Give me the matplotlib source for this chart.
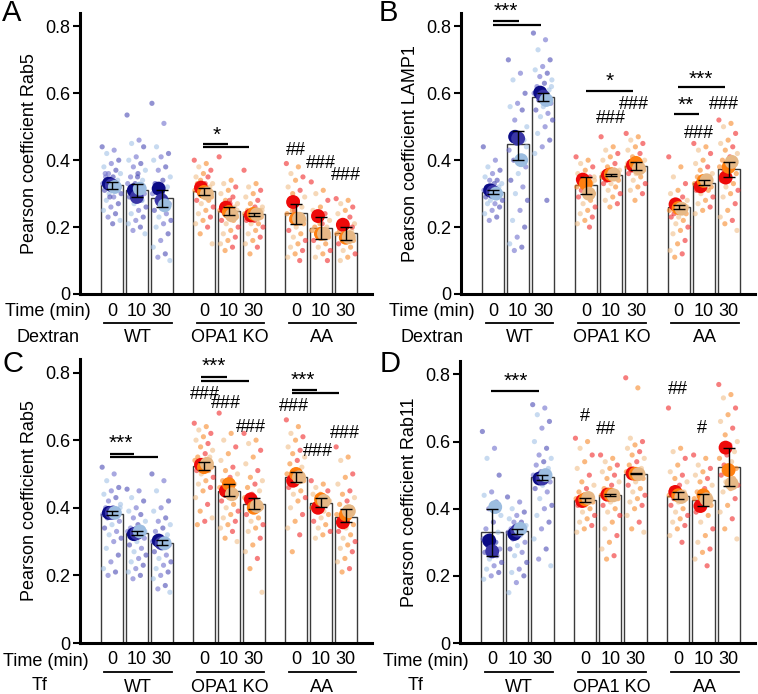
import numpy as np
import matplotlib.pyplot as plt
from matplotlib.transforms import blended_transform_factory, ScaledTranslation

plt.rcParams['font.family'] = ['Liberation Sans', 'DejaVu Sans']
plt.rcParams['font.size'] = 13

W, H = 758, 694

times = ['0', '10', '30']
groups = ['WT', 'OPA1 KO', 'AA']
xpos = [0, 1, 2, 3.7, 4.7, 5.7, 7.4, 8.4, 9.4]

# ---- panel A: Rab5 / Dextran ----
A_mean = [0.325, 0.310, 0.287, 0.307, 0.247, 0.238, 0.242, 0.197, 0.182]
A_lo = [0.315, 0.290, 0.260, 0.297, 0.235, 0.232, 0.210, 0.163, 0.160]
A_hi = [0.335, 0.330, 0.310, 0.316, 0.260, 0.242, 0.270, 0.230, 0.200]
A_reps = [[0.330, 0.325, 0.320], [0.310, 0.290, 0.315], [0.315, 0.280, 0.265],
          [0.318, 0.305, 0.300], [0.258, 0.245, 0.235], [0.235, 0.240, 0.238],
          [0.275, 0.225, 0.225], [0.233, 0.180, 0.180], [0.207, 0.168, 0.170]]
A_pts = [
    [0.44, 0.43, 0.42, 0.40, 0.39, 0.38, 0.37, 0.36, 0.36, 0.35, 0.35, 0.34, 0.34, 0.33, 0.33, 0.33, 0.32,
     0.32, 0.31, 0.31, 0.30, 0.30, 0.29, 0.28, 0.27, 0.26, 0.25, 0.24, 0.23, 0.22, 0.21, 0.36, 0.31, 0.29],
    [0.535, 0.46, 0.45, 0.44, 0.41, 0.40, 0.39, 0.38, 0.37, 0.36, 0.35, 0.34, 0.33, 0.33, 0.32, 0.31, 0.30,
     0.30, 0.29, 0.28, 0.27, 0.26, 0.25, 0.24, 0.23, 0.22, 0.21, 0.20, 0.19, 0.18, 0.35, 0.31, 0.28],
    [0.57, 0.51, 0.44, 0.42, 0.41, 0.40, 0.38, 0.37, 0.35, 0.34, 0.33, 0.32, 0.31, 0.30, 0.29, 0.28, 0.27,
     0.26, 0.25, 0.24, 0.23, 0.22, 0.21, 0.20, 0.18, 0.16, 0.14, 0.12, 0.11, 0.10, 0.30, 0.33, 0.27],
    [0.40, 0.39, 0.38, 0.37, 0.36, 0.35, 0.35, 0.34, 0.33, 0.33, 0.32, 0.32, 0.31, 0.31, 0.30, 0.30, 0.29,
     0.29, 0.28, 0.28, 0.27, 0.26, 0.25, 0.24, 0.23, 0.22, 0.21, 0.20, 0.18, 0.15, 0.31, 0.33],
    [0.41, 0.34, 0.33, 0.32, 0.31, 0.30, 0.29, 0.28, 0.27, 0.27, 0.26, 0.26, 0.25, 0.25, 0.24, 0.24, 0.23,
     0.23, 0.22, 0.22, 0.21, 0.20, 0.19, 0.18, 0.17, 0.16, 0.15, 0.14, 0.13, 0.25, 0.28],
    [0.37, 0.33, 0.32, 0.31, 0.30, 0.29, 0.28, 0.27, 0.26, 0.26, 0.25, 0.25, 0.24, 0.24, 0.24, 0.23, 0.23,
     0.22, 0.22, 0.21, 0.21, 0.20, 0.19, 0.18, 0.17, 0.16, 0.15, 0.14, 0.12, 0.25, 0.22],
    [0.39, 0.38, 0.36, 0.35, 0.34, 0.32, 0.31, 0.30, 0.29, 0.28, 0.27, 0.26, 0.25, 0.24, 0.23, 0.22, 0.21,
     0.20, 0.19, 0.18, 0.17, 0.16, 0.15, 0.14, 0.13, 0.12, 0.11, 0.10, 0.25, 0.22],
    [0.335, 0.31, 0.30, 0.28, 0.26, 0.25, 0.24, 0.23, 0.22, 0.21, 0.20, 0.20, 0.19, 0.19, 0.18, 0.18, 0.17,
     0.17, 0.16, 0.15, 0.14, 0.13, 0.12, 0.11, 0.10, 0.21, 0.19],
    [0.285, 0.28, 0.27, 0.26, 0.25, 0.24, 0.23, 0.22, 0.21, 0.20, 0.19, 0.19, 0.18, 0.18, 0.17, 0.17, 0.16,
     0.16, 0.15, 0.14, 0.13, 0.12, 0.11, 0.10, 0.20, 0.18],
]
A_lines = [(3.65, 4.65, 0.448), (3.65, 5.5, 0.438)]
A_marks = [(4.2, 0.475, '*'), (7.4, 0.43, '##'), (8.4, 0.39, '###'), (9.4, 0.355, '###')]

# ---- panel B: LAMP1 / Dextran ----
B_mean = [0.305, 0.447, 0.590, 0.325, 0.357, 0.383, 0.260, 0.333, 0.373]
B_lo = [0.300, 0.402, 0.578, 0.300, 0.352, 0.370, 0.253, 0.327, 0.350]
B_hi = [0.310, 0.487, 0.602, 0.350, 0.360, 0.395, 0.266, 0.340, 0.396]
B_reps = [[0.310, 0.305, 0.300], [0.470, 0.465, 0.400], [0.602, 0.590, 0.580],
          [0.342, 0.330, 0.300], [0.355, 0.358, 0.357], [0.385, 0.392, 0.375],
          [0.268, 0.257, 0.255], [0.322, 0.338, 0.340], [0.348, 0.380, 0.395]]
B_pts = [
    [0.44, 0.40, 0.38, 0.37, 0.36, 0.35, 0.34, 0.34, 0.33, 0.33, 0.32, 0.32, 0.31, 0.31, 0.31, 0.30, 0.30,
     0.30, 0.29, 0.29, 0.28, 0.28, 0.27, 0.27, 0.26, 0.25, 0.24, 0.23, 0.22, 0.30, 0.32],
    [0.70, 0.66, 0.64, 0.60, 0.57, 0.56, 0.55, 0.52, 0.50, 0.48, 0.47, 0.46, 0.45, 0.43, 0.41, 0.40, 0.38,
     0.36, 0.34, 0.32, 0.30, 0.28, 0.25, 0.22, 0.20, 0.17, 0.15, 0.14, 0.13, 0.44],
    [0.78, 0.76, 0.73, 0.70, 0.68, 0.67, 0.66, 0.65, 0.64, 0.63, 0.62, 0.61, 0.60, 0.60, 0.59, 0.58, 0.57,
     0.56, 0.55, 0.54, 0.53, 0.52, 0.50, 0.48, 0.46, 0.44, 0.42, 0.28, 0.59, 0.62],
    [0.41, 0.40, 0.39, 0.38, 0.37, 0.36, 0.35, 0.35, 0.34, 0.34, 0.33, 0.33, 0.32, 0.32, 0.31, 0.31, 0.30,
     0.30, 0.29, 0.28, 0.27, 0.26, 0.25, 0.24, 0.23, 0.22, 0.21, 0.20, 0.33, 0.35],
    [0.47, 0.44, 0.43, 0.42, 0.41, 0.40, 0.39, 0.38, 0.37, 0.37, 0.36, 0.36, 0.35, 0.35, 0.35, 0.34, 0.34,
     0.33, 0.33, 0.32, 0.31, 0.30, 0.29, 0.28, 0.27, 0.26, 0.36, 0.37],
    [0.48, 0.47, 0.46, 0.45, 0.44, 0.43, 0.42, 0.41, 0.40, 0.40, 0.39, 0.39, 0.38, 0.38, 0.38, 0.37, 0.37,
     0.36, 0.36, 0.35, 0.34, 0.33, 0.32, 0.31, 0.30, 0.28, 0.39, 0.37],
    [0.41, 0.38, 0.35, 0.33, 0.31, 0.30, 0.29, 0.28, 0.28, 0.27, 0.27, 0.26, 0.26, 0.25, 0.25, 0.24, 0.24,
     0.23, 0.23, 0.22, 0.21, 0.20, 0.19, 0.18, 0.16, 0.15, 0.13, 0.12, 0.11, 0.26],
    [0.45, 0.44, 0.43, 0.42, 0.40, 0.39, 0.38, 0.37, 0.36, 0.35, 0.35, 0.34, 0.34, 0.33, 0.33, 0.33, 0.32,
     0.32, 0.31, 0.31, 0.30, 0.29, 0.28, 0.27, 0.26, 0.25, 0.24, 0.34],
    [0.52, 0.51, 0.50, 0.48, 0.46, 0.45, 0.44, 0.43, 0.42, 0.41, 0.40, 0.40, 0.39, 0.38, 0.37, 0.37, 0.36,
     0.35, 0.34, 0.33, 0.32, 0.31, 0.30, 0.29, 0.27, 0.25, 0.23, 0.22, 0.21, 0.19],
]
B_lines = [(0.0, 1.04, 0.815), (0.0, 1.9, 0.805), (3.7, 5.6, 0.607), (7.36, 9.24, 0.618), (7.2, 8.2, 0.537)]
B_marks = [(0.5, 0.845, '***'), (4.65, 0.636, '*'), (5.6, 0.567, '###'), (4.72, 0.525, '###'),
           (8.3, 0.643, '***'), (7.7, 0.565, '**'), (9.2, 0.567, '###'), (8.2, 0.48, '###')]

# ---- panel C: Rab5 / Tf ----
C_mean = [0.383, 0.326, 0.297, 0.523, 0.450, 0.410, 0.490, 0.415, 0.373]
C_lo = [0.378, 0.320, 0.290, 0.512, 0.435, 0.395, 0.477, 0.403, 0.357]
C_hi = [0.390, 0.332, 0.305, 0.535, 0.470, 0.428, 0.505, 0.430, 0.395]
C_reps = [[0.385, 0.385, 0.385], [0.322, 0.325, 0.330], [0.303, 0.295, 0.295],
          [0.527, 0.520, 0.530], [0.450, 0.470, 0.440], [0.425, 0.400, 0.405],
          [0.480, 0.500, 0.490], [0.400, 0.425, 0.420], [0.357, 0.380, 0.390]]
C_pts = [
    [0.52, 0.50, 0.48, 0.46, 0.45, 0.44, 0.43, 0.42, 0.41, 0.40, 0.40, 0.39, 0.39, 0.38, 0.38, 0.37, 0.36,
     0.35, 0.34, 0.33, 0.32, 0.31, 0.30, 0.28, 0.26, 0.24, 0.22, 0.21, 0.20, 0.40],
    [0.455, 0.45, 0.43, 0.42, 0.40, 0.39, 0.38, 0.37, 0.36, 0.35, 0.34, 0.34, 0.33, 0.33, 0.32, 0.32, 0.31,
     0.30, 0.29, 0.28, 0.27, 0.26, 0.25, 0.24, 0.23, 0.22, 0.21, 0.20, 0.19, 0.33],
    [0.50, 0.48, 0.45, 0.42, 0.40, 0.39, 0.37, 0.36, 0.35, 0.34, 0.33, 0.32, 0.31, 0.30, 0.30, 0.29, 0.29,
     0.28, 0.27, 0.26, 0.25, 0.24, 0.23, 0.22, 0.21, 0.20, 0.19, 0.17, 0.16, 0.15, 0.30],
    [0.65, 0.64, 0.63, 0.62, 0.61, 0.60, 0.59, 0.58, 0.57, 0.56, 0.55, 0.55, 0.54, 0.54, 0.53, 0.53, 0.52,
     0.52, 0.51, 0.51, 0.50, 0.49, 0.48, 0.47, 0.46, 0.45, 0.43, 0.41, 0.39, 0.37, 0.36, 0.35],
    [0.68, 0.62, 0.60, 0.58, 0.56, 0.54, 0.52, 0.51, 0.50, 0.49, 0.48, 0.47, 0.46, 0.46, 0.45, 0.45, 0.44,
     0.43, 0.42, 0.41, 0.40, 0.39, 0.38, 0.37, 0.36, 0.35, 0.34, 0.33, 0.31, 0.30],
    [0.62, 0.60, 0.59, 0.57, 0.55, 0.53, 0.51, 0.49, 0.48, 0.47, 0.46, 0.45, 0.44, 0.43, 0.42, 0.41, 0.40,
     0.39, 0.38, 0.37, 0.36, 0.35, 0.34, 0.33, 0.31, 0.29, 0.27, 0.25, 0.22, 0.15],
    [0.66, 0.64, 0.62, 0.61, 0.60, 0.58, 0.57, 0.56, 0.55, 0.54, 0.53, 0.52, 0.51, 0.50, 0.50, 0.49, 0.48,
     0.47, 0.46, 0.45, 0.44, 0.43, 0.42, 0.40, 0.38, 0.36, 0.34, 0.32, 0.27],
    [0.48, 0.47, 0.46, 0.45, 0.44, 0.44, 0.43, 0.43, 0.42, 0.42, 0.41, 0.41, 0.40, 0.40, 0.39, 0.39, 0.38,
     0.37, 0.36, 0.35, 0.34, 0.33, 0.32, 0.31, 0.42],
    [0.58, 0.55, 0.54, 0.50, 0.49, 0.47, 0.45, 0.44, 0.43, 0.42, 0.41, 0.40, 0.39, 0.38, 0.37, 0.36, 0.35,
     0.34, 0.33, 0.32, 0.31, 0.30, 0.29, 0.28, 0.27, 0.25, 0.24, 0.22, 0.21],
]
C_lines = [(-0.08, 0.88, 0.560), (-0.08, 1.84, 0.549), (3.6, 4.64, 0.786), (3.6, 5.52, 0.776),
           (7.24, 8.24, 0.749), (7.24, 9.12, 0.739)]
C_marks = [(0.36, 0.59, '***'), (4.1, 0.817, '***'), (7.68, 0.777, '***'),
           (3.72, 0.735, '###'), (4.6, 0.708, '###'), (5.6, 0.637, '###'),
           (7.32, 0.70, '###'), (8.28, 0.566, '###'), (9.36, 0.62, '###')]

# ---- panel D: Rab11 / Tf ----
D_mean = [0.330, 0.333, 0.494, 0.427, 0.441, 0.504, 0.438, 0.425, 0.525]
D_lo = [0.260, 0.325, 0.487, 0.420, 0.439, 0.502, 0.430, 0.408, 0.467]
D_hi = [0.398, 0.340, 0.500, 0.433, 0.443, 0.506, 0.450, 0.445, 0.580]
D_reps = [[0.305, 0.273, 0.405], [0.325, 0.335, 0.340], [0.490, 0.490, 0.500],
          [0.423, 0.428, 0.432], [0.442, 0.442, 0.440], [0.505, 0.504, 0.503],
          [0.450, 0.440, 0.435], [0.408, 0.440, 0.428], [0.582, 0.515, 0.475]]
D_pts = [
    [0.63, 0.58, 0.55, 0.50, 0.45, 0.44, 0.42, 0.40, 0.38, 0.36, 0.34, 0.33, 0.32, 0.31, 0.30, 0.29, 0.28,
     0.28, 0.27, 0.26, 0.25, 0.24, 0.23, 0.22, 0.21, 0.20, 0.19, 0.30],
    [0.435, 0.42, 0.40, 0.39, 0.38, 0.37, 0.36, 0.36, 0.35, 0.35, 0.34, 0.34, 0.33, 0.33, 0.32, 0.31, 0.30,
     0.29, 0.28, 0.27, 0.26, 0.24, 0.22, 0.21, 0.20, 0.18, 0.15, 0.34],
    [0.71, 0.70, 0.68, 0.66, 0.64, 0.60, 0.58, 0.56, 0.55, 0.54, 0.53, 0.52, 0.51, 0.50, 0.50, 0.49, 0.48,
     0.47, 0.46, 0.45, 0.43, 0.41, 0.40, 0.38, 0.36, 0.34, 0.31, 0.28, 0.25, 0.23],
    [0.61, 0.60, 0.58, 0.56, 0.54, 0.52, 0.50, 0.48, 0.47, 0.46, 0.45, 0.44, 0.44, 0.43, 0.43, 0.42, 0.42,
     0.41, 0.41, 0.40, 0.39, 0.38, 0.37, 0.36, 0.35, 0.34, 0.33, 0.43],
    [0.56, 0.55, 0.54, 0.53, 0.52, 0.51, 0.50, 0.49, 0.48, 0.47, 0.46, 0.45, 0.45, 0.44, 0.44, 0.43, 0.43,
     0.42, 0.41, 0.40, 0.39, 0.38, 0.36, 0.34, 0.32, 0.30, 0.28, 0.26, 0.25],
    [0.79, 0.76, 0.61, 0.60, 0.59, 0.58, 0.57, 0.56, 0.55, 0.54, 0.53, 0.52, 0.51, 0.51, 0.50, 0.50, 0.49,
     0.48, 0.47, 0.46, 0.45, 0.44, 0.43, 0.42, 0.41, 0.40, 0.38, 0.36, 0.34, 0.33],
    [0.70, 0.58, 0.57, 0.55, 0.53, 0.51, 0.50, 0.49, 0.48, 0.47, 0.46, 0.45, 0.45, 0.44, 0.44, 0.43, 0.43,
     0.42, 0.41, 0.40, 0.39, 0.38, 0.37, 0.36, 0.35, 0.34, 0.32, 0.30],
    [0.56, 0.55, 0.53, 0.52, 0.51, 0.50, 0.49, 0.48, 0.47, 0.46, 0.45, 0.44, 0.44, 0.43, 0.43, 0.42, 0.41,
     0.40, 0.39, 0.38, 0.36, 0.34, 0.32, 0.30, 0.28, 0.27, 0.25, 0.23],
    [0.77, 0.74, 0.73, 0.70, 0.68, 0.66, 0.64, 0.62, 0.60, 0.59, 0.58, 0.57, 0.56, 0.55, 0.54, 0.53, 0.52,
     0.51, 0.50, 0.49, 0.48, 0.47, 0.46, 0.45, 0.43, 0.41, 0.39, 0.37, 0.34, 0.31],
]
D_lines = [(-0.04, 1.88, 0.752)]
D_marks = [(0.92, 0.78, '***'), (3.68, 0.674, '#'), (4.52, 0.636, '##'), (7.4, 0.755, '##'), (8.32, 0.638, '#')]

# colours: replicate 1/2/3
wt_big = ['#0b0b85', '#3a36a6', '#9cbde0']
wt_small = ['#4a4ab4', '#6e6ecc', '#a3c2e6']
mut_big = ['#ee0a0a', '#ff8010', '#e6b886']
mut_small = ['#f02828', '#f88a2a', '#f0bf8a']


def draw_panel(ax, means, lo, hi, reps, pts, ylabel, lines, marks):
    ax.bar(xpos, means, width=0.88, color='white', edgecolor='#3a3a3a', linewidth=1.0, zorder=1)
    for b in range(9):
        big = wt_big if b < 3 else mut_big
        small = wt_small if b < 3 else mut_small
        vals = pts[b]
        for i, v in enumerate(vals):
            jit = ((i * 0.6180339) % 1 - 0.5) * 0.78
            ax.scatter(xpos[b] + jit, v, s=14, color=small[i % 3], alpha=0.6,
                       edgecolors='none', zorder=2)
        for r in range(3):
            ax.scatter(xpos[b] + (r - 1) * 0.12, reps[b][r], s=100, color=big[r],
                       edgecolors='none', zorder=3)
        ax.errorbar(xpos[b], means[b], yerr=[[means[b] - lo[b]], [hi[b] - means[b]]],
                    fmt='none', ecolor='black', elinewidth=1.0, capsize=4, capthick=1.0, zorder=4)
    for x1, x2, y in lines:
        ax.plot([x1, x2], [y, y], color='black', lw=1.6, solid_capstyle='butt', zorder=5, clip_on=False)
    for x, y, t in marks:
        ax.text(x, y, t, ha='center', va='center', fontsize=13 if '#' in t else 15, zorder=6)

    ax.set_xlim(-1.28, 10.45)
    ax.set_ylim(0, 0.84)
    ax.set_yticks([0, 0.2, 0.4, 0.6, 0.8])
    ax.set_yticklabels(['0', '0.2', '0.4', '0.6', '0.8'])
    ax.set_xticks([])
    ax.spines['top'].set_visible(False)
    ax.spines['right'].set_visible(False)
    ax.spines['left'].set_linewidth(2.2)
    ax.spines['bottom'].set_linewidth(2.2)
    ax.tick_params(axis='y', length=5, width=1.5, pad=2, labelsize=13)
    ax.set_ylabel(ylabel, fontsize=13, labelpad=5)

    # x labels below the axis
    for b in range(9):
        ax.annotate(times[b % 3], xy=(xpos[b], 0), xycoords=('data', 'axes fraction'),
                    xytext=(0, -17), textcoords='offset pixels', ha='center', va='center',
                    fontsize=13, annotation_clip=False)
    for g in range(3):
        x0 = xpos[g * 3]
        tr = blended_transform_factory(ax.transData, ax.transAxes) + \
            ScaledTranslation(0, -0.29, ax.figure.dpi_scale_trans)
        ax.plot([x0 - 0.3, x0 + 2.4], [0, 0], color='black', lw=1.3, transform=tr, clip_on=False)
        ax.annotate(groups[g], xy=(x0 + 1.05, 0), xycoords=('data', 'axes fraction'),
                    xytext=(0, -44), textcoords='offset pixels', ha='center', va='center',
                    fontsize=13, annotation_clip=False)


fig = plt.figure(figsize=(W / 100, H / 100), dpi=100)


def add_axes(l, t, r, b):
    return fig.add_axes([l / W, 1 - b / H, (r - l) / W, (b - t) / H])


axA = add_axes(80, 13, 372, 294)
axB = add_axes(461, 13, 755, 294)
axC = add_axes(80, 359, 372, 643)
axD = add_axes(460, 361, 755, 643)

draw_panel(axA, A_mean, A_lo, A_hi, A_reps, A_pts, 'Pearson coefficient Rab5', A_lines, A_marks)
draw_panel(axB, B_mean, B_lo, B_hi, B_reps, B_pts, 'Pearson coefficient LAMP1', B_lines, B_marks)
draw_panel(axC, C_mean, C_lo, C_hi, C_reps, C_pts, 'Pearson coefficient Rab5', C_lines, C_marks)
draw_panel(axD, D_mean, D_lo, D_hi, D_reps, D_pts, 'Pearson coefficient Rab11', D_lines, D_marks)


def ftext(x, y, s, **kw):
    fig.text(x / W, 1 - y / H, s, **kw)


for (lx, ly, letter) in [(2, 13, 'A'), (379, 13, 'B'), (2, 364, 'C'), (380, 364, 'D')]:
    ftext(lx, ly, letter, fontsize=21, va='center', ha='left')

ftext(5, 312, 'Time (min)', va='center', ha='left')
ftext(17, 338, 'Dextran', va='center', ha='left')
ftext(389, 312, 'Time (min)', va='center', ha='left')
ftext(400, 338, 'Dextran', va='center', ha='left')
ftext(3, 661, 'Time (min)', va='center', ha='left')
ftext(32, 686, 'Tf', va='center', ha='left')
ftext(383, 661, 'Time (min)', va='center', ha='left')
ftext(408, 686, 'Tf', va='center', ha='left')

fig.savefig('out.png', dpi=100)
